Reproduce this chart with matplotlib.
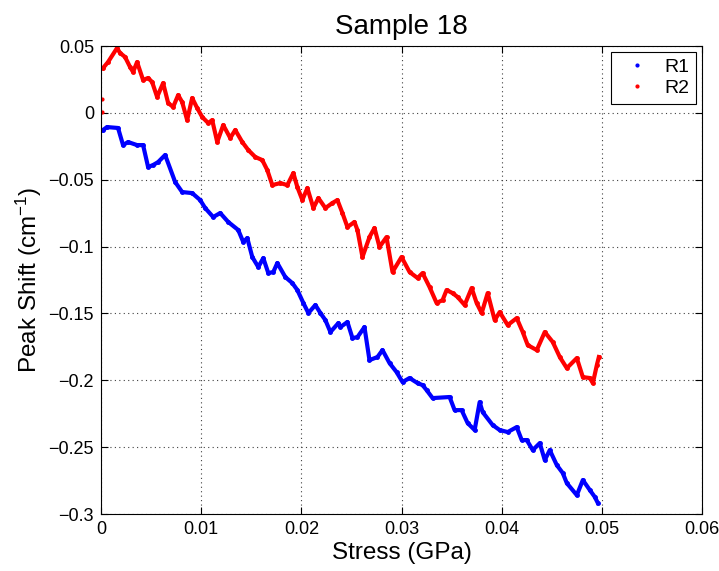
import matplotlib
matplotlib.use('Agg')
import matplotlib.pyplot as plt
from matplotlib.lines import Line2D

plt.rcParams['font.family'] = ['Liberation Sans', 'DejaVu Sans']
plt.rcParams['mathtext.fontset'] = 'custom'
plt.rcParams['mathtext.rm'] = 'Liberation Sans'
plt.rcParams['mathtext.it'] = 'Liberation Sans:italic'

# R1 trace (stress in GPa, peak shift in cm^-1)
r1_stress = [0.0002, 0.0006, 0.0017, 0.0022, 0.0027, 0.0036, 0.0042, 0.0047, 0.0052, 0.0057,
             0.0064, 0.0074, 0.0081, 0.0091, 0.0099, 0.0104, 0.0112, 0.0119, 0.0127, 0.0137,
             0.0142, 0.0146, 0.0151, 0.0157, 0.0162, 0.0167, 0.0172, 0.0176, 0.0184, 0.0191,
             0.0196, 0.0202, 0.0207, 0.0214, 0.0219, 0.0224, 0.0229, 0.0237, 0.0239, 0.0246,
             0.0251, 0.0256, 0.0263, 0.0268, 0.0276, 0.0281, 0.0288, 0.0295, 0.0301, 0.0308,
             0.0316, 0.0321, 0.0325, 0.0331, 0.0348, 0.0353, 0.0360, 0.0366, 0.0373, 0.0378,
             0.0381, 0.0391, 0.0398, 0.0406, 0.0415, 0.0420, 0.0425, 0.0431, 0.0438, 0.0443,
             0.0448, 0.0455, 0.0461, 0.0465, 0.0475, 0.0481, 0.0488, 0.0493, 0.0496]
r1_shift = [-0.0128, -0.0106, -0.0113, -0.0241, -0.0218, -0.0241, -0.0241, -0.0405, -0.0390, -0.0368,
            -0.0315, -0.0517, -0.0592, -0.0600, -0.0652, -0.0712, -0.0779, -0.0749, -0.0816, -0.0876,
            -0.0966, -0.0936, -0.1078, -0.1153, -0.1086, -0.1198, -0.1190, -0.1123, -0.1228, -0.1273,
            -0.1325, -0.1422, -0.1497, -0.1437, -0.1497, -0.1550, -0.1639, -0.1572, -0.1602, -0.1564,
            -0.1684, -0.1677, -0.1602, -0.1849, -0.1826, -0.1774, -0.1871, -0.1938, -0.2013, -0.1983,
            -0.2021, -0.2036, -0.2073, -0.2133, -0.2125, -0.2223, -0.2223, -0.2320, -0.2372, -0.2163,
            -0.2238, -0.2335, -0.2372, -0.2387, -0.2350, -0.2447, -0.2447, -0.2522, -0.2470, -0.2597,
            -0.2522, -0.2634, -0.2694, -0.2769, -0.2859, -0.2746, -0.2821, -0.2873, -0.2918]

# R2 trace (first two entries are the stray points at zero stress)
r2_stress = [0.0001, 0.0001, 0.0002, 0.0007, 0.0016, 0.0019, 0.0024, 0.0029, 0.0032, 0.0036, 0.0042,
             0.0047, 0.0051, 0.0056, 0.0062, 0.0067, 0.0072, 0.0077, 0.0081, 0.0086, 0.0091,
             0.0096, 0.0101, 0.0107, 0.0111, 0.0116, 0.0122, 0.0129, 0.0134, 0.0141, 0.0147,
             0.0154, 0.0161, 0.0166, 0.0171, 0.0179, 0.0186, 0.0192, 0.0196, 0.0201, 0.0206,
             0.0212, 0.0217, 0.0224, 0.0231, 0.0236, 0.0241, 0.0246, 0.0253, 0.0256, 0.0261,
             0.0268, 0.0273, 0.0278, 0.0285, 0.0291, 0.0300, 0.0308, 0.0316, 0.0321, 0.0328,
             0.0335, 0.0341, 0.0345, 0.0351, 0.0356, 0.0363, 0.0370, 0.0375, 0.0380, 0.0386,
             0.0393, 0.0398, 0.0406, 0.0415, 0.0421, 0.0426, 0.0435, 0.0443, 0.0451, 0.0458,
             0.0465, 0.0475, 0.0481, 0.0488, 0.0491, 0.0495, 0.0497]
r2_shift = [0.0104, 0.0006, 0.0335, 0.0380, 0.0485, 0.0448, 0.0418, 0.0343, 0.0306, 0.0380, 0.0246,
            0.0261, 0.0231, 0.0119, 0.0223, 0.0074, 0.0044, 0.0133, 0.0081, -0.0054, 0.0111,
            0.0036, -0.0031, -0.0076, -0.0054, -0.0218, -0.0091, -0.0188, -0.0128, -0.0218, -0.0278,
            -0.0330, -0.0353, -0.0428, -0.0540, -0.0525, -0.0540, -0.0450, -0.0555, -0.0652, -0.0562,
            -0.0712, -0.0637, -0.0712, -0.0674, -0.0652, -0.0749, -0.0854, -0.0816, -0.0876, -0.1078,
            -0.0929, -0.0861, -0.1003, -0.0929, -0.1190, -0.1078, -0.1190, -0.1235, -0.1198, -0.1303,
            -0.1422, -0.1400, -0.1325, -0.1348, -0.1377, -0.1437, -0.1310, -0.1422, -0.1497, -0.1348,
            -0.1550, -0.1490, -0.1587, -0.1535, -0.1639, -0.1737, -0.1774, -0.1639, -0.1714, -0.1826,
            -0.1909, -0.1834, -0.1976, -0.1983, -0.2021, -0.1886, -0.1826]

x_ticks = [0, 0.01, 0.02, 0.03, 0.04, 0.05, 0.06]
x_labels = ['0', '0.01', '0.02', '0.03', '0.04', '0.05', '0.06']
y_ticks = [0.05, 0, -0.05, -0.1, -0.15, -0.2, -0.25, -0.3]
y_labels = ['0.05', '0', '\u22120.05', '\u22120.1', '\u22120.15', '\u22120.2', '\u22120.25', '\u22120.3']

fig = plt.figure(figsize=(7.19, 5.71), dpi=100)
ax = fig.add_axes([0.1405, 0.0998, 0.8359, 0.8196])

ax.plot(r1_stress, r1_shift, color='#0000ff', lw=3, marker='.', ms=5)
ax.plot(r2_stress[2:], r2_shift[2:], color='#ff0000', lw=3, marker='.', ms=5)
ax.plot(r2_stress[:2], r2_shift[:2], color='#ff0000', ls='none', marker='.', ms=4)

ax.set_xlim(0, 0.06)
ax.set_ylim(-0.3, 0.05)
ax.set_xticks(x_ticks)
ax.set_xticklabels(x_labels)
ax.set_yticks(y_ticks)
ax.set_yticklabels(y_labels)
ax.tick_params(direction='in', top=True, right=True, labelsize=13, length=5, width=0.8, pad=5)
ax.grid(True, color='#404040', linestyle=(0, (1, 3)), linewidth=0.8)
for s in ax.spines.values():
    s.set_linewidth(0.8)

ax.set_title('Sample 18', fontsize=20, pad=9)
ax.set_xlabel('Stress (GPa)', fontsize=17.5, labelpad=3)
ax.set_ylabel('Peak Shift (cm$^{-1}$)', fontsize=17.5, labelpad=3)

handles = [Line2D([], [], color='#0000ff', marker='.', ls='none', ms=4),
           Line2D([], [], color='#ff0000', marker='.', ls='none', ms=4)]
leg = ax.legend(handles, ['R1', 'R2'], loc='upper right', fancybox=False, framealpha=1,
                edgecolor='black', fontsize=14, borderaxespad=0.3, handletextpad=0.4,
                handlelength=2.0, labelspacing=0.15, borderpad=0.35)
leg.get_frame().set_linewidth(0.8)

fig.savefig('out.png', dpi=100)
